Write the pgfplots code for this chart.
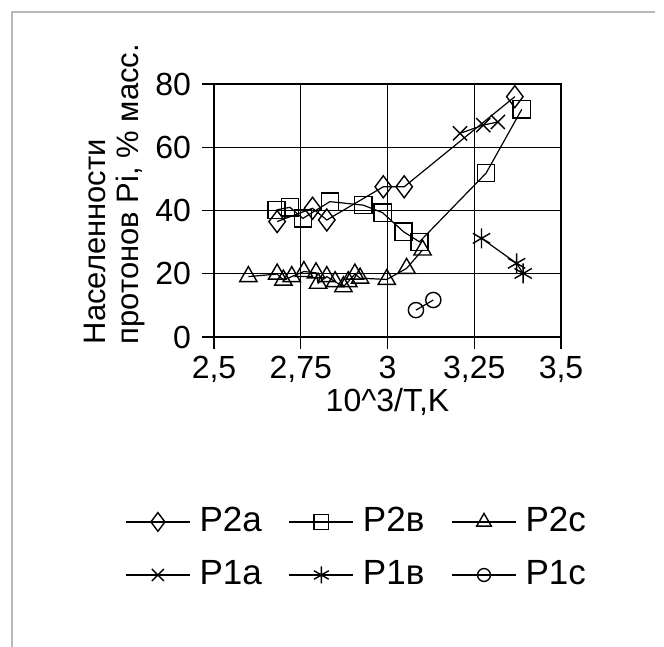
\documentclass[border=0pt]{standalone}
\usepackage{pgfplots}
\pgfplotsset{compat=1.18}
\usepackage{fontspec}
\setmainfont{Liberation Sans}
\begin{document}
\fontsize{16}{19}\selectfont
\begin{tikzpicture}
\useasboundingbox (0,0) rectangle (332pt,323.5pt);
\draw[gray!55, line width=1pt] (6pt,0) -- (6pt,317.5pt) -- (327.5pt,317.5pt);
\begin{axis}[
    at={(107pt,155pt)}, anchor=south west,
    scale only axis,
    width=173.5pt, height=126.5pt,
    xmin=2.5, xmax=3.5, ymin=0, ymax=80,
    xtick={2.5,2.75,3,3.25,3.5},
    xticklabels={{2,5},{2,75},3,{3,25},{3,5}},
    ytick={0,20,40,60,80},
    /pgf/number format/assume math mode=true,
    xtick pos=left, ytick pos=left,
    tick align=outside,
    major tick length=6pt,
    tick style={black, line width=0.6pt},
    grid=major,
    grid style={black, line width=0.7pt},
    axis line style={black, line width=0.7pt},
    tick label style={font=\fontsize{16}{19}\selectfont},
    xticklabel style={yshift=2pt},
    xlabel={10\^{}3/T,K},
    xlabel style={yshift=8pt, font=\fontsize{16}{19}\selectfont},
    ylabel={Населенности\\протонов Pi, \% масс.},
    ylabel style={at={(axis description cs:-0.375,-0.03)}, anchor=north west,
        align=left, inner sep=0pt, font=\fontsize{15.5}{16.5}\selectfont},
    legend columns=3,
    legend style={draw=none, fill=none, at={(-0.274,-0.64)}, anchor=north west,
        font=\fontsize{17.5}{20}\selectfont,
        /tikz/every odd column/.append style={column sep=2.5pt},
        /tikz/every even column/.append style={column sep=11.5pt},
        row sep=8pt},
    legend image code/.code={\draw[mark repeat=2, mark phase=2, every mark/.append style={scale=0.85}] plot coordinates {(0pt,0pt) (16pt,0pt) (32pt,0pt)};},
]
\addplot[black, line width=0.6pt, mark=diamond, mark size=5.5pt, mark options={solid, fill=white, line width=0.7pt}] coordinates {
(2.682,36.5) (2.784,40.7) (2.825,37.0) (2.988,47.5) (3.048,47.5) (3.367,76.0)};
\addlegendentry{P2a}
\addplot[black, line width=0.6pt, mark=square, mark size=4.3pt, mark options={solid, fill=white, line width=0.7pt}] coordinates {
(2.680,40.2) (2.719,41.0) (2.756,37.5) (2.834,42.8) (2.930,41.7) (2.986,39.3)
(3.046,33.3) (3.092,30.1) (3.284,51.8) (3.387,72.0)};
\addlegendentry{P2в}
\addplot[black, line width=0.6pt, mark=triangle, mark size=5pt, mark options={solid, fill=white, line width=0.7pt}] coordinates {
(2.599,19.1) (2.682,19.9) (2.700,18.0) (2.724,19.1) (2.759,20.7) (2.794,20.3)
(2.800,17.0) (2.825,19.1) (2.849,17.5) (2.873,15.9) (2.887,17.5) (2.906,19.9)
(2.921,18.6) (2.998,18.2) (3.055,21.7) (3.101,27.5)};
\addlegendentry{P2c}
\addplot[black, line width=0.6pt, mark=x, mark size=5pt, mark options={solid, line width=0.7pt}] coordinates {
(3.209,64.4) (3.276,67.0) (3.318,68.0)};
\addlegendentry{P1a}
\addplot[black, line width=0.6pt, mark=asterisk, mark size=5pt, mark options={solid, line width=0.7pt}] coordinates {
(3.271,31.2) (3.372,23.3) (3.391,20.1)};
\addlegendentry{P1в}
\addplot[black, line width=0.6pt, mark=o, mark size=3.8pt, mark options={solid, fill=white, line width=0.7pt}] coordinates {
(3.082,8.5) (3.132,11.7)};
\addlegendentry{P1c}
\end{axis}
\end{tikzpicture}
\end{document}
